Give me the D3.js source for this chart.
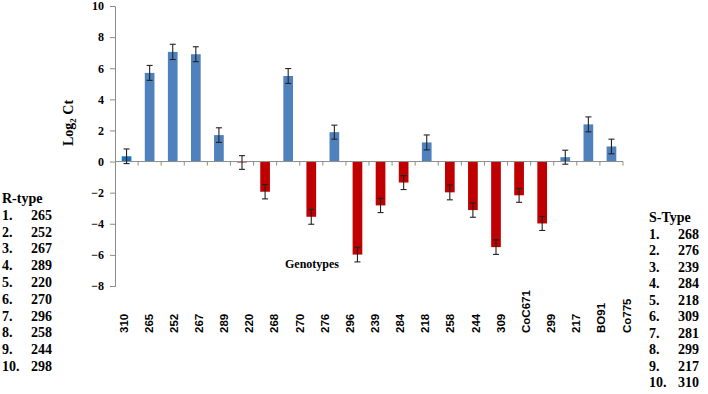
<!DOCTYPE html>
<html>
<head>
<meta charset="utf-8">
<script src="https://cdn.jsdelivr.net/npm/d3@7"></script>
<style>
body{margin:0;background:#fff;}
svg{display:block;}
</style>
</head>
<body>
<script>
// bar values (log2 Ct) and error half-widths, left to right
var barValues=[0.34,5.70,7.05,6.90,1.70,-0.06,-1.94,5.50,-3.55,1.89,-5.98,-2.82,-1.35,1.23,-1.98,-3.12,-5.50,-2.17,-3.98,0.28,2.39,0.97];
var barErrors=[0.47,0.48,0.49,0.48,0.47,0.44,0.46,0.48,0.48,0.45,0.47,0.46,0.45,0.48,0.48,0.46,0.47,0.45,0.45,0.45,0.48,0.47];
var tickLabels=["310","265","252","267","289","220","268","270","276","296","239","284","218","258","244","309","CoC671","299","217","BO91","Co775"];
var yTicks=[-8,-6,-4,-2,0,2,4,6,8,10];
var rTypes=["265","252","267","289","220","270","296","258","244","298"];
var sTypes=["268","276","239","284","218","309","281","299","217","310"];

var width=708, height=394;
var serif="'Liberation Serif','Times New Roman',serif";
var sans="'Liberation Sans',Arial,sans-serif";

var svg=d3.select("body").append("svg").attr("width",width).attr("height",height);

var y=d3.scaleLinear().domain([-8,10]).range([286,6]);
var x=d3.scaleBand()
    .domain(d3.range(barValues.length))
    .range([115,623])
    .paddingInner(0.58).paddingOuter(0.29);
var xLab=d3.scalePoint().domain(tickLabels).range([123,626]);

// y axis
var yAxis=d3.axisLeft(y).tickValues(yTicks).tickSize(5).tickPadding(6);
var gy=svg.append("g").attr("transform","translate(115,0)").call(yAxis);
gy.select(".domain").attr("stroke","#8c8c8c");
gy.selectAll(".tick line").attr("stroke","#8c8c8c");
gy.selectAll(".tick text").attr("font-family",serif).attr("font-weight","bold")
  .attr("font-size","12px").attr("fill","#000");

// bars
var step=x.step();
svg.append("g").selectAll("rect")
  .data(barValues)
  .enter().append("rect")
    .attr("x",function(d,i){return x(i);})
    .attr("width",x.bandwidth())
    .attr("y",function(d){return y(Math.max(0,d));})
    .attr("height",function(d){return Math.abs(y(d)-y(0));})
    .attr("fill",function(d,i){ if(i==0) return "#1b72be"; return d>=0?"#4f81bd":"#c00000";});

// zero line with ticks between categories
svg.append("line").attr("x1",115).attr("x2",623).attr("y1",y(0)).attr("y2",y(0))
  .attr("stroke","#8c8c8c");
svg.append("g").selectAll("line")
  .data(d3.range(1,barValues.length+1))
  .enter().append("line")
    .attr("x1",function(i){return 115+i*step;})
    .attr("x2",function(i){return 115+i*step;})
    .attr("y1",y(0)).attr("y2",y(0)+4)
    .attr("stroke","#8c8c8c");

// error bars
var eg=svg.append("g").attr("stroke","#222").attr("stroke-width",1.1);
barValues.forEach(function(d,i){
  var cx=x(i)+x.bandwidth()/2;
  var e=barErrors[i];
  eg.append("line").attr("x1",cx).attr("x2",cx).attr("y1",y(d+e)).attr("y2",y(d-e));
  eg.append("line").attr("x1",cx-3).attr("x2",cx+3).attr("y1",y(d+e)).attr("y2",y(d+e));
  eg.append("line").attr("x1",cx-3).attr("x2",cx+3).attr("y1",y(d-e)).attr("y2",y(d-e));
});

// genotype labels below the plot
var xAxis=d3.axisBottom(xLab).tickSize(0);
var gx=svg.append("g").attr("transform","translate(0,333)").call(xAxis);
gx.select(".domain").remove();
gx.selectAll(".tick text")
  .attr("font-family",sans).attr("font-weight","bold").attr("font-size","11.5px").attr("fill","#000")
  .attr("transform","rotate(-90)")
  .attr("x",0).attr("y",0).attr("dy","0.35em")
  .attr("text-anchor","start");

// axis titles
var yl=svg.append("text")
  .attr("transform","translate(73,123) rotate(-90)")
  .attr("text-anchor","middle")
  .attr("font-family",serif).attr("font-weight","bold").attr("font-size","14px");
yl.append("tspan").text("Log");
yl.append("tspan").attr("font-size","9px").attr("dy","3").text("2");
yl.append("tspan").attr("dy","-3").text(" Ct");

svg.append("text").attr("x",312).attr("y",268).attr("text-anchor","middle")
  .attr("font-family",serif).attr("font-weight","bold").attr("font-size","12px")
  .text("Genotypes");

// side lists
function drawList(x0,y0,gap,title,items){
  var g=svg.append("g").attr("font-family",serif).attr("font-weight","bold").attr("font-size","14px");
  g.append("text").attr("x",x0).attr("y",y0).text(title);
  items.forEach(function(v,i){
    var yy=y0+gap*(i+1);
    g.append("text").attr("x",x0).attr("y",yy).text((i+1)+".");
    g.append("text").attr("x",x0+29).attr("y",yy).text(v);
  });
}
drawList(2,203,16.8,"R-type",rTypes);
drawList(649,222,16.5,"S-Type",sTypes);
</script>
</body>
</html>
